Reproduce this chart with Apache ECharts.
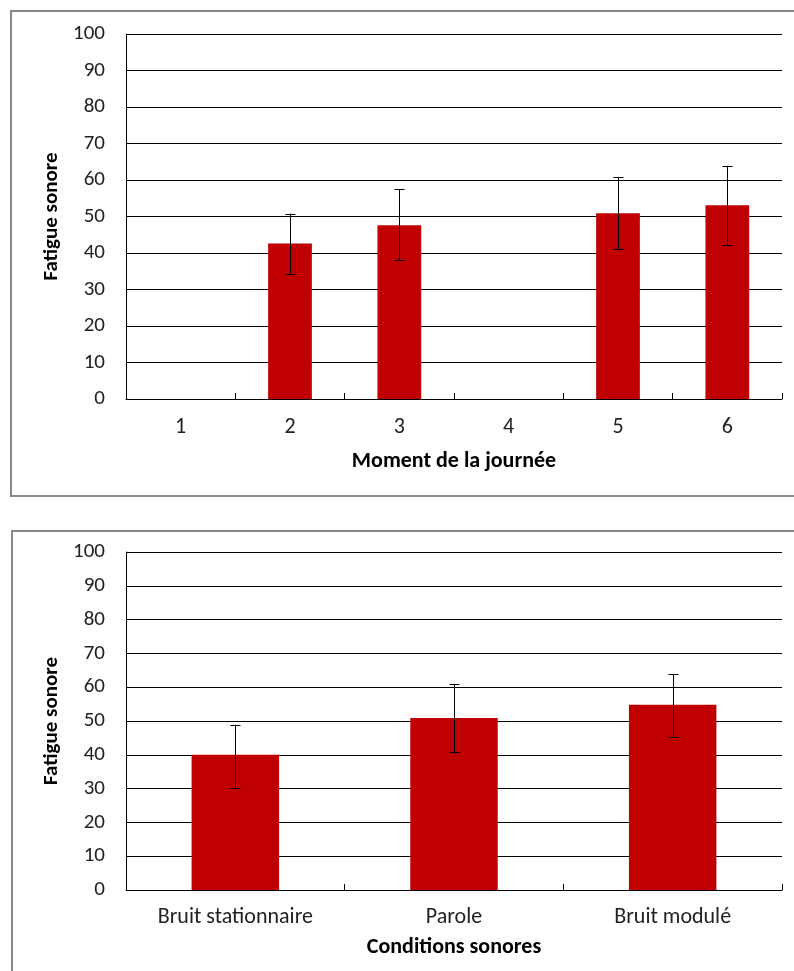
<!DOCTYPE html>
<html>
<head>
<meta charset="utf-8">
<script src="https://cdn.jsdelivr.net/npm/echarts@6/dist/echarts.min.js"></script>
<style>
html,body{margin:0;padding:0;background:#fff;}
#c{width:794px;height:971px;}
</style>
</head>
<body>
<div id="c"></div>
<script>
// Top chart data
var momentCategories = ['1', '2', '3', '4', '5', '6'];
var momentValues = [null, 42.6, 47.6, null, 50.9, 53.1];
var momentLow = [null, 34.3, 38.0, null, 41.0, 42.1];
var momentHigh = [null, 50.8, 57.5, null, 60.8, 63.9];

// Bottom chart data
var conditionCategories = ['Bruit stationnaire', 'Parole', 'Bruit modulé'];
var conditionValues = [40.0, 50.9, 54.8];
var conditionLow = [30.2, 40.7, 45.3];
var conditionHigh = [48.9, 61.0, 63.9];

var yTicks = [0, 10, 20, 30, 40, 50, 60, 70, 80, 90, 100];

var labelFont = "Carlito, 'Liberation Sans Narrow', 'DejaVu Sans Condensed', sans-serif";

function errData(low, high) {
  var out = [];
  for (var i = 0; i < low.length; i++) {
    if (low[i] != null) out.push([i, low[i], high[i]]);
  }
  return out;
}

function errRender(params, api) {
  var x = api.value(0);
  var lo = api.coord([x, api.value(1)]);
  var hi = api.coord([x, api.value(2)]);
  var cx = Math.round(lo[0]) + 0.5;
  var w = 5;
  var style = {stroke: '#000', lineWidth: 1, fill: null};
  return {
    type: 'group',
    children: [
      {type: 'line', shape: {x1: cx, y1: hi[1], x2: cx, y2: lo[1]}, style: style},
      {type: 'line', shape: {x1: cx - w, y1: Math.round(hi[1]) + 0.5, x2: cx + w, y2: Math.round(hi[1]) + 0.5}, style: style},
      {type: 'line', shape: {x1: cx - w, y1: Math.round(lo[1]) + 0.5, x2: cx + w, y2: Math.round(lo[1]) + 0.5}, style: style}
    ]
  };
}

function yAxisCfg(idx) {
  return {
    type: 'value', gridIndex: idx, min: yTicks[0], max: yTicks[yTicks.length - 1], interval: 10,
    name: 'Fatigue sonore', nameLocation: 'middle', nameRotate: 90, nameGap: 60,
    nameTextStyle: {fontFamily: labelFont, fontWeight: 'bold', fontSize: 21, color: '#000'},
    axisLine: {show: true, lineStyle: {color: '#000', width: 1}},
    axisTick: {show: false},
    axisLabel: {fontFamily: labelFont, fontSize: 21, color: '#222', margin: 21},
    splitLine: {show: true, lineStyle: {color: '#000', width: 1}}
  };
}

function xAxisCfg(idx, cats, name, labelMargin, nameGap) {
  return {
    type: 'category', gridIndex: idx, data: cats,
    name: name, nameLocation: 'middle', nameGap: nameGap,
    nameTextStyle: {fontFamily: labelFont, fontWeight: 'bold', fontSize: 22, color: '#000'},
    axisLine: {show: true, lineStyle: {color: '#000', width: 1}},
    axisTick: {show: true, inside: true, length: 6, lineStyle: {color: '#000'}},
    axisLabel: {fontFamily: labelFont, fontSize: 22, color: '#222', margin: labelMargin},
    splitLine: {show: false}
  };
}

var chart = echarts.init(document.getElementById('c'), null, {renderer: 'canvas'});
chart.setOption({
  backgroundColor: '#fff',
  animation: false,
  graphic: [
    {type: 'rect', shape: {x: 11, y: 11, width: 800, height: 485}, style: {fill: null, stroke: '#888', lineWidth: 2}, z: 100},
    {type: 'rect', shape: {x: 12, y: 531, width: 800, height: 500}, style: {fill: null, stroke: '#888', lineWidth: 2}, z: 100}
  ],
  grid: [
    {left: 126, top: 34, width: 656, height: 365},
    {left: 126, top: 552, width: 656, height: 338}
  ],
  xAxis: [
    xAxisCfg(0, momentCategories, 'Moment de la journée', 17, 51),
    xAxisCfg(1, conditionCategories, 'Conditions sonores', 16, 46)
  ],
  yAxis: [yAxisCfg(0), yAxisCfg(1)],
  series: [
    {type: 'bar', xAxisIndex: 0, yAxisIndex: 0, data: momentValues, barWidth: '40%',
     itemStyle: {color: '#C00000'}},
    {type: 'custom', xAxisIndex: 0, yAxisIndex: 0, data: errData(momentLow, momentHigh),
     renderItem: errRender, z: 10},
    {type: 'bar', xAxisIndex: 1, yAxisIndex: 1, data: conditionValues, barWidth: '40%',
     itemStyle: {color: '#C00000'}},
    {type: 'custom', xAxisIndex: 1, yAxisIndex: 1, data: errData(conditionLow, conditionHigh),
     renderItem: errRender, z: 10}
  ]
});
</script>
</body>
</html>
